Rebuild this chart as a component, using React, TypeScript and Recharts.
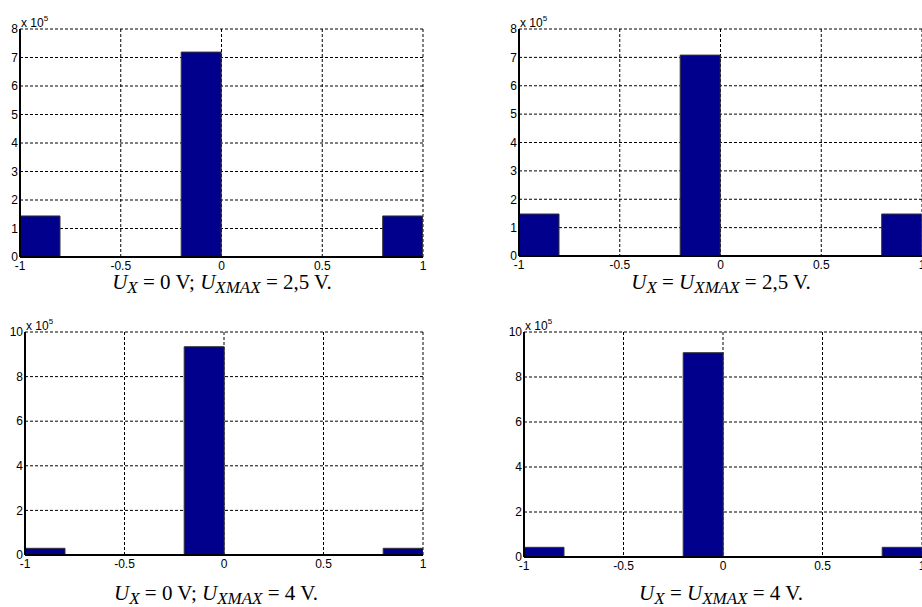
import React from 'react';
import { BarChart, Bar, XAxis, YAxis, CartesianGrid } from 'recharts';

// histogram bin centres (bin width 0.2 from -1 to 1)
const binCenters = [-0.9, -0.7, -0.5, -0.3, -0.1, 0.1, 0.3, 0.5, 0.7, 0.9];
const countsA = [144000, 0, 0, 0, 719000, 0, 0, 0, 0, 144000];
const countsB = [148000, 0, 0, 0, 708000, 0, 0, 0, 0, 148000];
const countsC = [30000, 0, 0, 0, 934000, 0, 0, 0, 0, 30000];
const countsD = [43000, 0, 0, 0, 908000, 0, 0, 0, 0, 43000];

const xTicks = [-1, -0.5, 0, 0.5, 1];
const yTicks8 = [0, 100000, 200000, 300000, 400000, 500000, 600000, 700000, 800000];
const yTicks10 = [0, 200000, 400000, 600000, 800000, 1000000];

const captionA = ['U', 'X', ' = 0 V; ', 'U', 'XMAX', ' = 2,5 V.'];
const captionB = ['U', 'X', ' = ', 'U', 'XMAX', ' = 2,5 V.'];
const captionC = ['U', 'X', ' = 0 V; ', 'U', 'XMAX', ' = 4 V.'];
const captionD = ['U', 'X', ' = ', 'U', 'XMAX', ' = 4 V.'];

const build = (counts: number[]) => binCenters.map((x, i) => ({ x, n: counts[i] }));

const FILL = '#00008C';
const TICK_FONT = { fontSize: 12, fill: '#000', fontFamily: 'Liberation Sans, Arial, sans-serif' };

type PanelProps = {
  left: number; top: number; width: number; height: number;
  margin: { top: number; right: number; bottom: number; left: number };
  yWidth: number; counts: number[]; yMax: number; yTicks: number[];
};

function Panel(p: PanelProps) {
  return (
    <div style={{ position: 'absolute', left: p.left, top: p.top, width: p.width, height: p.height }}>
      <BarChart width={p.width} height={p.height} data={build(p.counts)} margin={p.margin} barCategoryGap={0} barGap={0}>
        <CartesianGrid stroke="#000" strokeDasharray="3 2" strokeWidth={1} />
        <XAxis
          dataKey="x" type="number" domain={[-1, 1]} ticks={xTicks} allowDataOverflow
          height={20} tickSize={0} tickMargin={4} tick={TICK_FONT}
          axisLine={{ stroke: '#000', strokeWidth: 2 }} interval={0}
        />
        <XAxis
          xAxisId="top" orientation="top" type="number" domain={[-1, 1]} allowDataOverflow
          height={0} tick={false} tickLine={false} axisLine={{ stroke: '#111', strokeWidth: 1.5 }}
        />
        <YAxis
          type="number" domain={[0, p.yMax]} ticks={p.yTicks} allowDataOverflow
          width={p.yWidth} tickSize={0} tickMargin={2} tick={TICK_FONT} interval={0}
          tickFormatter={(v: number) => String(Math.round(v / 100000))}
          axisLine={{ stroke: '#000', strokeWidth: 2 }}
        />
        <YAxis
          yAxisId="right" orientation="right" type="number" domain={[0, p.yMax]} allowDataOverflow
          width={0} tick={false} tickLine={false} axisLine={{ stroke: '#111', strokeWidth: 1.5 }}
        />
        <Bar dataKey="n" fill={FILL} stroke="#333" strokeWidth={1} isAnimationActive={false} />
      </BarChart>
    </div>
  );
}

function Caption({ cx, y, parts }: { cx: number; y: number; parts: string[] }) {
  return (
    <text x={cx} y={y} textAnchor="middle" fontFamily="Liberation Serif, Times New Roman, serif" fontSize={21} fill="#000" style={{ whiteSpace: 'pre' }}>
      <tspan fontStyle="italic">{parts[0]}</tspan>
      <tspan fontStyle="italic" fontSize={17} dy={4}>{parts[1]}</tspan>
      <tspan dy={-4}>{parts[2]}</tspan>
      <tspan fontStyle="italic">{parts[3]}</tspan>
      <tspan fontStyle="italic" fontSize={17} dy={4}>{parts[4]}</tspan>
      <tspan dy={-4}>{parts[5]}</tspan>
    </text>
  );
}

function Scale({ x, y }: { x: number; y: number }) {
  return (
    <text x={x} y={y} fontFamily="Liberation Sans, Arial, sans-serif" fontSize={12} fill="#000" style={{ whiteSpace: 'pre' }}>
      x 10<tspan fontSize={8} dy={-6}>5</tspan>
    </text>
  );
}

export default function App() {
  return (
    <div style={{ position: 'absolute', left: 0, top: 0, width: 922, height: 607, overflow: 'hidden', background: '#fff' }}>
      <Panel left={0} top={0} width={461} height={303} margin={{ top: 29, right: 38, bottom: 26, left: 0 }} yWidth={20} counts={countsA} yMax={800000} yTicks={yTicks8} />
      <Panel left={461} top={0} width={461} height={303} margin={{ top: 29, right: 0, bottom: 27, left: 38 }} yWidth={20} counts={countsB} yMax={800000} yTicks={yTicks8} />
      <Panel left={0} top={303} width={461} height={304} margin={{ top: 29, right: 38, bottom: 32, left: 0 }} yWidth={25} counts={countsC} yMax={1000000} yTicks={yTicks10} />
      <Panel left={461} top={303} width={461} height={304} margin={{ top: 29, right: 0, bottom: 30, left: 38 }} yWidth={25} counts={countsD} yMax={1000000} yTicks={yTicks10} />
      <svg width={922} height={607} style={{ position: 'absolute', left: 0, top: 0, pointerEvents: 'none' }}>
        <Scale x={21} y={27} />
        <Scale x={520} y={27} />
        <Scale x={26} y={330} />
        <Scale x={525} y={330} />
        <Caption cx={222} y={289} parts={captionA} />
        <Caption cx={721} y={289} parts={captionB} />
        <Caption cx={216} y={600} parts={captionC} />
        <Caption cx={721} y={600} parts={captionD} />
      </svg>
    </div>
  );
}
